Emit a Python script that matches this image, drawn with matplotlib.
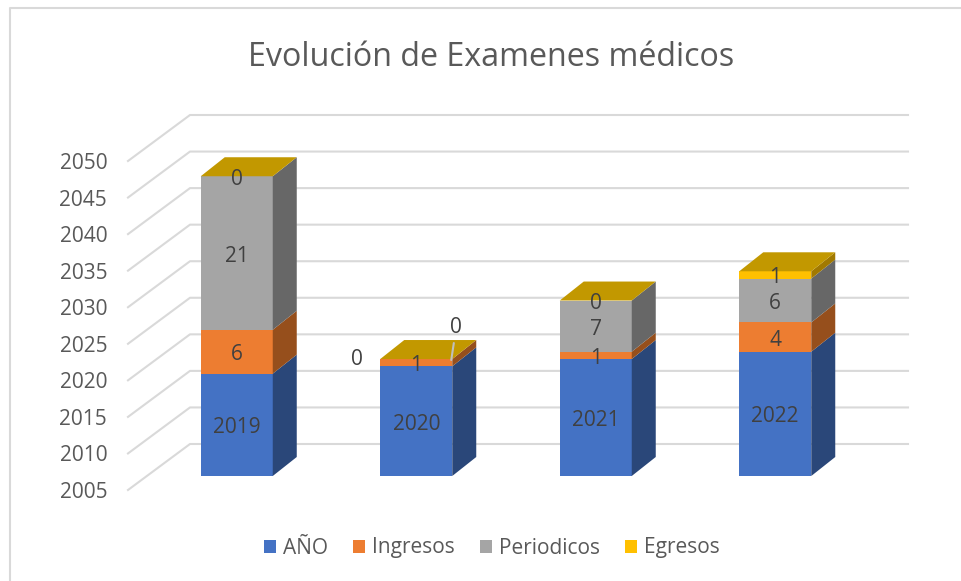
import matplotlib
matplotlib.use("Agg")
import matplotlib.pyplot as plt
from matplotlib.lines import Line2D
import numpy as np

plt.rcParams['font.family'] = ['Open Sans', 'DejaVu Sans']

# data
years = ["2019", "2020", "2021", "2022"]
anio = [2019, 2020, 2021, 2022]
ingresos = [6, 1, 1, 4]
periodicos = [21, 0, 7, 6]
egresos = [0, 0, 0, 1]
series_names = ["AÑO", "Ingresos", "Periodicos", "Egresos"]
ticks = [2005, 2010, 2015, 2020, 2025, 2030, 2035, 2040, 2045, 2050]

colors = ["#4472C4", "#ED7D31", "#A5A5A5", "#FFC000"]
side_colors = ["#2A4779", "#964F1C", "#676767", "#A17900"]
top_color = "#C29800"
text_col = "#595959"

W, H = 961, 581
fig = plt.figure(figsize=(W / 100, H / 100), dpi=100)
# only the top and left of the chart border are in the picture
fig.add_artist(Line2D([10 / W, 10 / W, 1], [1 - 580 / H, 1 - 8 / H, 1 - 8 / H], color="#D9D9D9", lw=1.5))

# front plane of the box, px from the picture
ax = fig.add_axes([128 / W, 1 - 490 / H, 718 / W, 329 / H])
ax.set_xlim(-0.5, 3.5)
ax.set_ylim(2005, 2050)
ax.patch.set_alpha(0)
for s in ax.spines.values():
    s.set_visible(False)

px_x = 718 / 4.0
px_y = 329 / 45.0
wall_dx, wall_dy = 62 / px_x, 46 / px_y   # depth of the box
bar_dx, bar_dy = 24 / px_x, 19 / px_y     # depth of a bar
off_dx, off_dy = 19 / px_x, 14 / px_y     # bar front away from box front
bar_w = 72 / px_x

for t in ticks:
    ax.plot([-0.5, -0.5 + wall_dx, 3.5 + wall_dx], [t, t + wall_dy, t + wall_dy],
            color="#D9D9D9", lw=1.5, clip_on=False, zorder=1)

ax.set_xticks([])
ax.set_yticks(ticks)
ax.tick_params(axis="y", length=0, pad=15, labelsize=15, labelcolor=text_col)

data = [anio, ingresos, periodicos, egresos]
x = np.arange(len(years)) + off_dx
base = np.full(len(years), 2005.0 + off_dy)
handles = []
lab = dict(ha="center", va="center", fontsize=15, color="#404040", zorder=5, annotation_clip=False)
labels_todo = []
for i, vals in enumerate(data):
    vals = np.array(vals, dtype=float)
    # the first series starts at the floor of the axis
    heights = vals - 2005 if i == 0 else vals
    b = ax.bar(x, heights, bar_w, bottom=base, color=colors[i], zorder=3, clip_on=False, linewidth=0)
    handles.append(b)
    for j in range(len(years)):
        xr = x[j] + bar_w / 2
        y0, y1 = base[j], base[j] + heights[j]
        if heights[j] > 0:
            ax.fill([xr, xr + bar_dx, xr + bar_dx, xr], [y0, y0 + bar_dy, y1 + bar_dy, y1],
                    color=side_colors[i], zorder=3, clip_on=False, lw=0)
        labels_todo.append((i, j, int(data[i][j]), (y0 + y1) / 2))
    base = base + heights

# top faces
for j in range(len(years)):
    xl, xr = x[j] - bar_w / 2, x[j] + bar_w / 2
    y = base[j]
    ax.fill([xl, xr, xr + bar_dx, xl + bar_dx], [y, y, y + bar_dy, y + bar_dy],
            color=top_color, zorder=3, clip_on=False, lw=0)

# value labels, the two zeros of 2020 sit outside the bar
for i, j, v, yc in labels_todo:
    if j == 1 and i == 2:
        ax.annotate(str(v), (x[j], yc), xytext=(-59, 0), textcoords="offset pixels", **lab)
    elif j == 1 and i == 3:
        ax.annotate(str(v), (x[j] + bar_w / 2 - 1 / px_x, yc - 1 / px_y), xytext=(5, 33),
                    textcoords="offset pixels",
                    arrowprops=dict(arrowstyle="-", color="#BFBFBF", lw=1.5, shrinkA=2, shrinkB=0), **lab)
    else:
        ax.annotate(str(v), (x[j], yc), xytext=(0, -3), textcoords="offset pixels", **lab)

fig.text(491 / W, 1 - 57 / H, "Evolución de Examenes médicos", ha="center", va="center",
         fontsize=23.2, color=text_col)

fig.legend(handles=handles, labels=series_names, loc="center", bbox_to_anchor=(492 / W, 1 - 548 / H),
           ncol=4, frameon=False, fontsize=15, labelcolor=text_col, handlelength=0.58, handleheight=0.58,
           handletextpad=0.33, columnspacing=1.2)

fig.savefig("out.png", dpi=100)
